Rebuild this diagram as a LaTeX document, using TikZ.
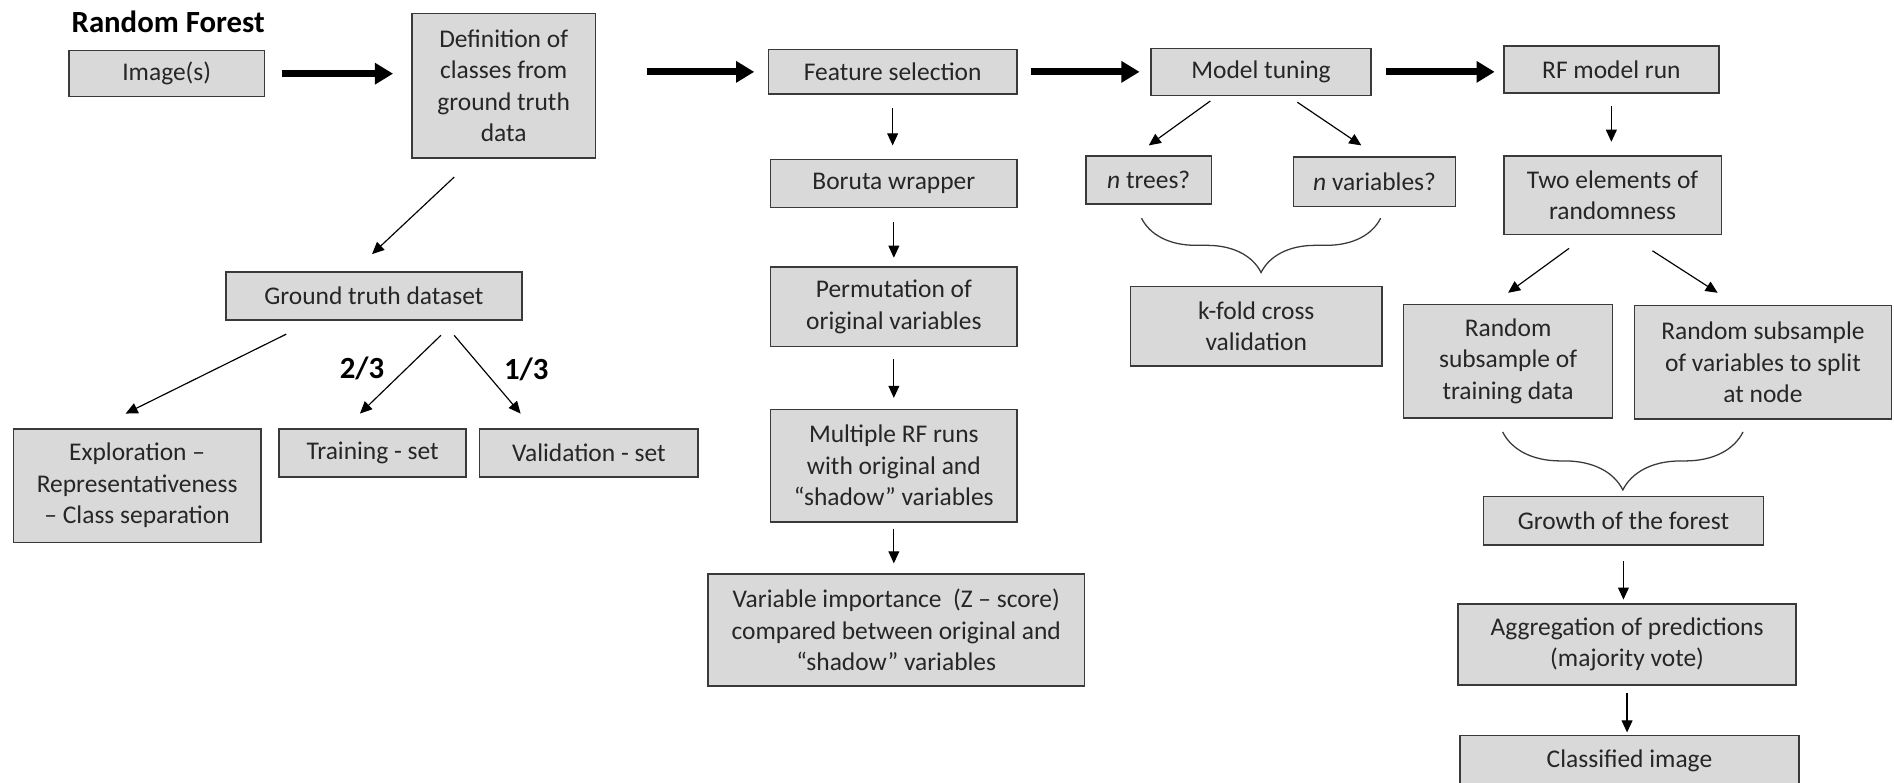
\documentclass[tikz,border=0pt]{standalone}
\usepackage{fontspec}
\setmainfont{Carlito}
\usetikzlibrary{arrows.meta,decorations.pathreplacing}

\definecolor{boxgray}{HTML}{D9D9D9}
\definecolor{boxline}{HTML}{3A3A3A}
\definecolor{txtgray}{HTML}{262626}

\begin{document}
\begin{tikzpicture}[x=0.02cm,y=-0.02cm,
        box/.style={draw=boxline, line width=0.7pt, fill=boxgray, text=txtgray, align=center, inner sep=0pt, font=\fontsize{12}{14.8}\selectfont},
        bigarrow/.style={-{Triangle[length=0.3cm,width=0.34cm]}, line width=0.12cm},
        smallarrow/.style={-{Triangle[length=0.2cm,width=0.18cm]}, line width=0.55pt},
        frac/.style={font=\fontsize{14.5}{16}\selectfont\bfseries},
        brc/.style={draw=boxline, line width=0.6pt, decorate, decoration={brace, mirror, amplitude=#1}},
        brc/.default=0.9cm]

        \useasboundingbox (0,0) rectangle (1568,648);

        \node[font=\fontsize{14.5}{16}\selectfont\bfseries, anchor=west, inner sep=0pt] (title) at (59,18) {Random Forest};

        % main chain
        \node[box, minimum width=3.24cm, minimum height=0.76cm] (img) at (138,61) {Image(s)};
        \node[box, minimum width=3.04cm, minimum height=2.40cm] (def) at (417,71) {Definition of\\classes from\\ground truth\\data};
        \node[box, minimum width=4.12cm, minimum height=0.74cm] (feat) at (739,59.5) {Feature selection};
        \node[box, minimum width=3.64cm, minimum height=0.78cm] (tune) at (1044,59.5) {Model tuning};
        \node[box, minimum width=3.56cm, minimum height=0.78cm] (rfrun) at (1334,57.5) {RF model run};

        % ground truth
        \node[box, minimum width=4.90cm, minimum height=0.80cm] (gt) at (309.5,245) {Ground truth dataset};
        \node[box, minimum width=4.10cm, minimum height=1.88cm] (expl) at (113.5,402) {Exploration –\\Representativeness\\– Class separation};
        \node[box, minimum width=3.10cm, minimum height=0.80cm] (train) at (308.5,375) {Training - set};
        \node[box, minimum width=3.62cm, minimum height=0.80cm] (valid) at (487.5,375) {Validation - set};

        % boruta
        \node[box, minimum width=4.08cm, minimum height=0.80cm] (boruta) at (740,152) {Boruta wrapper};
        \node[box, minimum width=4.08cm, minimum height=1.32cm] (perm) at (740,254) {Permutation of\\original variables};
        \node[box, minimum width=4.08cm, minimum height=1.86cm] (multi) at (740,385.5) {Multiple RF runs\\with original and\\“shadow” variables};
        \node[box, minimum width=6.24cm, minimum height=1.86cm] (varimp) at (742,521.5) {Variable importance~ (Z – score)\\compared between original and\\“shadow” variables};

        % tuning
        \node[box, minimum width=2.08cm, minimum height=0.80cm] (ntree) at (951,149) {\textit{n} trees?};
        \node[box, minimum width=2.68cm, minimum height=0.82cm] (nvar) at (1138,150.5) {\textit{n} variables?};
        \node[box, minimum width=4.16cm, minimum height=1.32cm] (kfold) at (1040,270) {k-fold cross\\validation};

        % rf run
        \node[box, minimum width=3.60cm, minimum height=1.30cm] (two) at (1335,161.5) {Two elements of\\randomness};
        \node[box, minimum width=3.46cm, minimum height=1.88cm] (rsdata) at (1248.5,299) {Random\\subsample of\\training data};
        \node[box, minimum width=4.26cm, minimum height=1.88cm] (rsvar) at (1459.5,300) {Random subsample\\of variables to split\\at node};
        \node[box, minimum width=4.64cm, minimum height=0.80cm] (growth) at (1344,431) {Growth of the forest};
        \node[box, minimum width=5.60cm, minimum height=1.34cm] (aggr) at (1347,533.5) {Aggregation of predictions\\(majority vote)};
        \node[box, minimum width=5.62cm, minimum height=0.84cm] (classif) at (1349,630) {Classified image};

        \draw[bigarrow, shorten <=0.28cm, shorten >=0.30cm] (img.east) -- (img.east -| def.west);
        \draw[bigarrow, shorten <=0.84cm, shorten >=0.22cm] (feat.west -| def.east) -- (feat.west);
        \draw[bigarrow, shorten <=0.22cm, shorten >=0.18cm] (feat) -- (tune);
        \draw[bigarrow, shorten <=0.24cm, shorten >=0.14cm] (tune.east) -- (tune.east -| rfrun.west);

        \draw[smallarrow] ([xshift=-0.82cm,yshift=-0.30cm]def.south) -- ([xshift=-0.03cm,yshift=0.28cm]gt.north);
        \draw[smallarrow] ([xshift=-1.45cm,yshift=-0.22cm]gt.south) -- ([xshift=-0.19cm,yshift=0.24cm]expl.north);
        \draw[smallarrow] ([xshift=1.11cm,yshift=-0.24cm]gt.south) -- node[midway, left=0.14cm, yshift=0.1cm, frac]{2/3} ([xshift=-0.21cm,yshift=0.24cm]train.north);
        \draw[smallarrow] ([xshift=1.33cm,yshift=-0.24cm]gt.south) -- node[midway, right=0.15cm, yshift=0.08cm, frac]{1/3} ([xshift=-1.13cm,yshift=0.24cm]valid.north);

        \draw[smallarrow, shorten <=0.22cm, shorten >=0.22cm] (feat.south) -- (feat.south |- boruta.north);
        \draw[smallarrow, shorten <=0.22cm, shorten >=0.14cm] (boruta.south) -- (boruta.south |- perm.north);
        \draw[smallarrow, shorten <=0.20cm, shorten >=0.18cm] (perm.south) -- (perm.south |- multi.north);
        \draw[smallarrow, shorten <=0.10cm, shorten >=0.16cm] (multi.south) -- (multi.south |- varimp.north);

        \draw[smallarrow] ([xshift=-0.84cm,yshift=-0.08cm]tune.south) -- ([yshift=0.16cm]ntree.north);
        \draw[smallarrow] ([xshift=0.60cm,yshift=-0.10cm]tune.south) -- ([xshift=-0.22cm,yshift=0.18cm]nvar.north);
        \draw[brc] ([xshift=-0.12cm,yshift=-0.22cm]ntree.south) -- ([xshift=0.10cm,yshift=-0.18cm]nvar.south);

        \draw[smallarrow, shorten <=0.20cm, shorten >=0.22cm] (rfrun.south) -- (rfrun.south |- two.north);
        \draw[smallarrow] ([xshift=-0.72cm,yshift=-0.22cm]two.south) -- ([yshift=0.18cm]rsdata.north);
        \draw[smallarrow] ([xshift=0.66cm,yshift=-0.26cm]two.south) -- ([xshift=-0.75cm,yshift=0.20cm]rsvar.north);
        \draw[brc=0.96cm] ([xshift=-0.09cm,yshift=-0.22cm]rsdata.south) -- ([xshift=-0.33cm,yshift=-0.20cm]rsvar.south);
        \draw[smallarrow, shorten <=0.26cm, shorten >=0.06cm] (growth.south) -- (growth.south |- aggr.north);
        \draw[smallarrow, shorten <=0.12cm, shorten >=0.04cm] (aggr.south) -- (aggr.south |- classif.north);
    \end{tikzpicture}
\end{document}
